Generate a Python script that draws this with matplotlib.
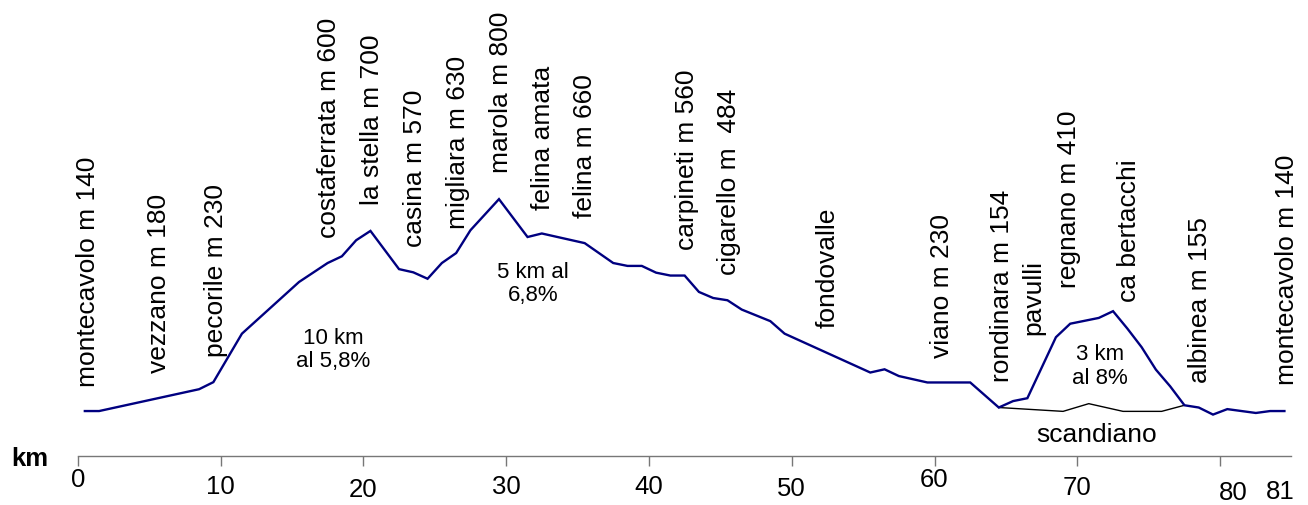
import matplotlib
matplotlib.use("Agg")
import matplotlib.pyplot as plt

plt.rcParams['font.family'] = ['Liberation Sans', 'DejaVu Sans']

# ---- data: main route profile (km, elevation m) ----
route_km = [0.5, 1.5, 8.5, 9.5, 11.5, 15.5, 17.5, 18.5, 19.5, 20.5, 22.5, 23.5,
            24.5, 25.5, 26.5, 27.5, 29.5, 31.5, 32.5, 35.5, 37.5, 38.5, 39.5,
            40.5, 41.5, 42.5, 43.5, 44.5, 45.5, 46.5, 48.5, 49.5, 55.5, 56.5,
            57.5, 59.5, 62.5, 64.5, 65.5, 66.5, 68.5, 69.5, 71.5, 72.5, 73.5,
            74.5, 75.5, 76.5, 77.5, 78.5, 79.5, 80.5, 82.5, 83.5, 84.5]
route_elev = [140, 140, 208, 230, 381, 542, 601, 622, 672, 701, 582, 572,
              552, 601, 632, 703, 800, 682, 693, 663, 601, 592, 592,
              571, 562, 562, 511, 492, 485, 456, 420, 381, 260, 270,
              249, 229, 229, 151, 171, 180, 370, 412, 430, 451, 397,
              339, 269, 217, 158, 151, 129, 146, 134, 140, 140]

# ---- data: scandiano variant ----
scand_km = [64.5, 69.0, 70.8, 73.2, 75.9, 77.5]
scand_elev = [151, 139, 163, 139, 139, 158]

# ---- place labels ----
place_names = ["montecavolo m 140", "vezzano m 180", "pecorile m 230",
               "costaferrata m 600", "la stella m 700", "casina m 570",
               "migliara m 630", "marola m 800", "felina amata", "felina m 660",
               "carpineti m 560", "cigarello m  484", "fondovalle", "viano m 230",
               "rondinara m 154", "pavulli", "regnano m 410", "ca bertacchi",
               "albinea m 155", "montecavolo m 140"]
place_pos = [(0.69, 216), (5.71, 258), (9.66, 309), (17.6, 678), (20.59, 782),
             (23.62, 652), (26.61, 707), (29.62, 881), (32.6, 766), (35.53, 740),
             (42.65, 642), (45.63, 564), (52.49, 398), (60.55, 304), (64.71, 231),
             (66.92, 377), (69.42, 522), (73.62, 481), (78.59, 226), (84.66, 221)]

# ---- climb notes ----
notes = ["10 km\nal 5,8%", "5 km al\n6,8%", "3 km\nal 8%", "scandiano"]
note_pos = [(17.9, 330), (31.9, 535), (71.59, 279), (71.38, 65)]
note_size = [16, 16, 16, 19]

# ---- x axis ----
tick_km = [0, 10, 20, 30, 40, 50, 60, 70, 80]
tick_labels = ["0", "10", "20", "30", "40", "50", "60", "70", "80", "81"]
tick_label_pos = [(0, -75), (10, -97), (20, -106), (30, -97), (40, -97),
                  (50, -103), (60, -75), (70, -100), (80.9, -115), (84.2, -112)]

W, H = 1308, 505
fig = plt.figure(figsize=(W / 100, H / 100), dpi=100)
ax = fig.add_axes([77.7 / W, (H - 456) / H, (1290.7 - 77.7) / W, (456 - 10) / H])
ax.set_xlim(0, 84.94)
ax.set_ylim(0, 1389)

ax.plot(route_km, route_elev, color='#000080', lw=1.7, solid_joinstyle='miter', zorder=3)
ax.plot(scand_km, scand_elev, color='black', lw=1.0, zorder=2)

for name, (x, y) in zip(place_names, place_pos):
    ax.text(x, y, name, rotation=90, ha='center', va='bottom', fontsize=19,
            color='black', clip_on=False)

for txt, (x, y), fs in zip(notes, note_pos, note_size):
    ax.text(x, y, txt, ha='center', va='center', fontsize=fs, color='black',
            linespacing=1.15, multialignment='center', clip_on=False)

for sp in ['left', 'right', 'top']:
    ax.spines[sp].set_visible(False)
ax.spines['bottom'].set_color('#777777')
ax.spines['bottom'].set_linewidth(1.0)
ax.set_yticks([])
ax.set_xticks(tick_km)
ax.set_xticklabels([])
ax.tick_params(axis='x', direction='out', length=7.5, width=1.0, color='#777777')

for lab, (x, y) in zip(tick_labels, tick_label_pos):
    ax.text(x, y, lab, ha='center', va='center', fontsize=18.5, clip_on=False)

ax.text(-3.34, -9, "km", ha='center', va='center', fontsize=18.5,
        fontweight='bold', clip_on=False)

fig.savefig("out.png", dpi=100)
